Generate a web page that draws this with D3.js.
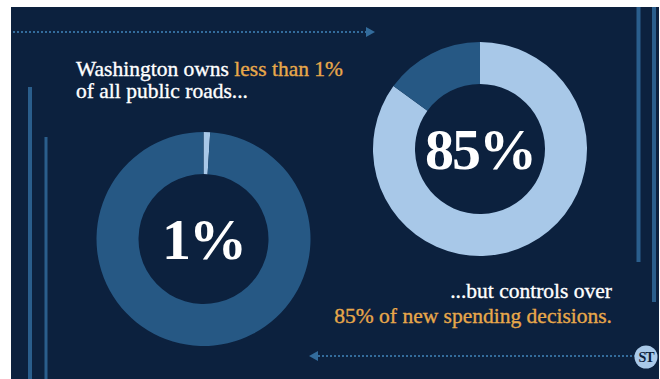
<!DOCTYPE html>
<html>
<head>
<meta charset="utf-8">
<script src="https://cdn.jsdelivr.net/npm/d3@7"></script>
<style>
  html, body { margin: 0; padding: 0; background: #fff; }
  svg { display: block; }
</style>
</head>
<body>
<div id="chart"></div>
<script>
// --- Data ---
const roadShareLabels = ["Washington", "Other owners"];
const roadShareValues = [1, 99];
const spendShareLabels = ["Washington", "Other"];
const spendShareValues = [85, 15];
const centerLabels = ["1%", "85%"];

const topLine1 = [
  { text: "Washington owns ", accent: false },
  { text: "less than 1%", accent: true }
];
const topLine2 = [{ text: "of all public roads...", accent: false }];
const bottomLine1 = [{ text: "...but controls over", accent: false }];
const bottomLine2 = [{ text: "85% of new spending decisions.", accent: true }];

// --- Config ---
const W = 660, H = 379;
const BG = "#0c213e";
const RING_DARK = "#265884";
const RING_LIGHT = "#a8c8e8";
const LINE_BLUE = "#2a5e8c";
const DOT_BLUE = "#336c9c";
const ACCENT = "#e8a84a";
const SERIF = "'Liberation Serif', 'Times New Roman', serif";

const svg = d3.select("#chart").append("svg")
  .attr("width", W)
  .attr("height", H);

// panel
svg.append("rect")
  .attr("x", 11).attr("y", 7)
  .attr("width", 648).attr("height", H - 7)
  .attr("fill", BG);

// --- decorative vertical bars ---
const bars = [
  { x: 30, y1: 87, y2: H, w: 4 },
  { x: 46, y1: 137, y2: H, w: 3 },
  { x: 638.5, y1: 7, y2: 262, w: 4 },
  { x: 654, y1: 7, y2: 302, w: 4 }
];
svg.selectAll("line.bar")
  .data(bars)
  .join("line")
  .attr("class", "bar")
  .attr("x1", d => d.x).attr("x2", d => d.x)
  .attr("y1", d => d.y1).attr("y2", d => d.y2)
  .attr("stroke", LINE_BLUE)
  .attr("stroke-width", d => d.w);

// --- dotted arrows ---
const dotted = svg.append("g")
  .attr("stroke", DOT_BLUE)
  .attr("stroke-width", 2.2)
  .attr("stroke-dasharray", "2,2");

dotted.append("line")
  .attr("x1", 13).attr("x2", 366)
  .attr("y1", 32).attr("y2", 32);
svg.append("path")
  .attr("d", "M366,27 L375,32 L366,37 Z")
  .attr("fill", DOT_BLUE);

dotted.append("line")
  .attr("x1", 318).attr("x2", 636)
  .attr("y1", 356).attr("y2", 356);
svg.append("path")
  .attr("d", "M318,351 L309,356 L318,361 Z")
  .attr("fill", DOT_BLUE);

// --- donuts ---
const pie = d3.pie().sort(null).value(d => d);
const arc = d3.arc().innerRadius(65).outerRadius(107);

const donuts = [
  { cx: 203.5, cy: 239, values: roadShareValues, colors: [RING_LIGHT, RING_DARK], label: centerLabels[0] },
  { cx: 480, cy: 149, values: spendShareValues, colors: [RING_LIGHT, RING_DARK], label: centerLabels[1] }
];

donuts.forEach(dn => {
  const g = svg.append("g").attr("transform", `translate(${dn.cx},${dn.cy})`);
  g.selectAll("path")
    .data(pie(dn.values))
    .join("path")
    .attr("d", arc)
    .attr("fill", (d, i) => dn.colors[i]);

  g.append("text")
    .attr("text-anchor", "middle")
    .attr("y", 20)
    .attr("font-family", SERIF)
    .attr("font-weight", "bold")
    .attr("font-size", 58)
    .attr("letter-spacing", -2)
    .attr("fill", "#ffffff")
    .text(dn.label);
});

// --- captions ---
function caption(parts, x, y, anchor) {
  const t = svg.append("text")
    .attr("x", x).attr("y", y)
    .attr("text-anchor", anchor)
    .attr("font-family", SERIF)
    .attr("font-size", 21.5)
    .attr("stroke-width", 0.35)
    .attr("fill", "#ffffff");
  t.selectAll("tspan")
    .data(parts)
    .join("tspan")
    .attr("fill", d => d.accent ? ACCENT : "#ffffff")
    .attr("stroke", d => d.accent ? ACCENT : "#ffffff")
    .text(d => d.text);
  return t;
}

caption(topLine1, 76, 76, "start");
caption(topLine2, 76, 98, "start");
caption(bottomLine1, 612, 298, "end");
caption(bottomLine2, 612, 323, "end");

// --- ST badge ---
const badge = svg.append("g").attr("transform", "translate(646,357)");
badge.append("circle").attr("r", 11.5).attr("fill", "#a9c9e9");
badge.append("text")
  .attr("text-anchor", "middle")
  .attr("y", 5)
  .attr("font-family", SERIF)
  .attr("font-weight", "bold")
  .attr("font-size", 14)
  .attr("letter-spacing", -1)
  .attr("fill", BG)
  .text("ST");
</script>
</body>
</html>
